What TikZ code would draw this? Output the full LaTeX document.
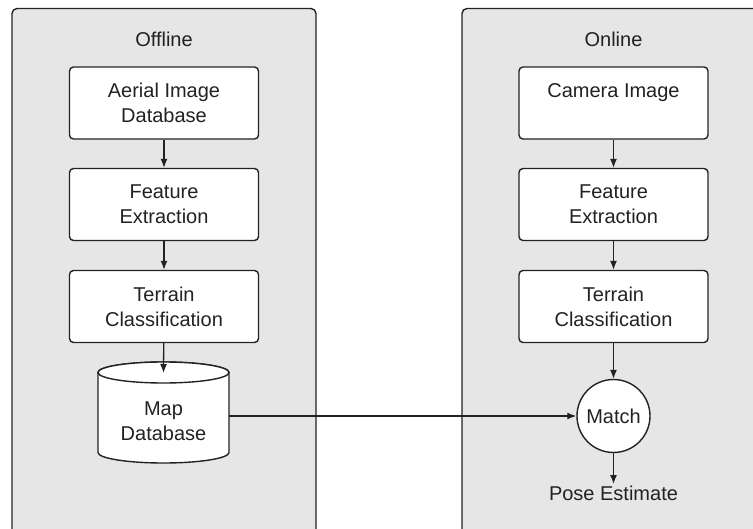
\documentclass[tikz,border=0pt]{standalone}
\usepackage{fontspec}
\setmainfont{Liberation Sans}
\usetikzlibrary{arrows.meta}
\definecolor{ink}{HTML}{222222}
\definecolor{panelgray}{HTML}{E6E6E6}
\begin{document}
\begin{tikzpicture}[x=1pt,y=-1pt,
  panel/.style={draw=ink, fill=panelgray, line width=1.4pt, rounded corners=5pt},
  procbox/.style={draw=ink, fill=white, line width=1.4pt, rounded corners=4pt,
    minimum width=189pt, minimum height=72pt, align=center, inner sep=0pt,
    font=\fontsize{20}{25}\selectfont, text=ink},
  lbl/.style={font=\fontsize{20}{25}\selectfont, text=ink, align=center},
  cyl/.style={draw=ink, fill=white, line width=1.4pt},
  flow/.style={-{Latex[length=9pt,width=7pt]}, line width=1.3pt, draw=ink}]
\useasboundingbox (0,0) rectangle (753,529);
\begin{scope}
  \clip (0,0) rectangle (753,529);
  \draw[panel] (12,8.5) rectangle (316,545);
  \draw[panel] (462,8.5) rectangle (800,545);
\end{scope}
% titles
\node[lbl] (offline) at (164,39) {Offline};
\node[lbl] (online) at (613.5,39) {Online};
% offline column
\node[procbox] (aerial) at (164,103) {Aerial Image\\Database};
\node[procbox] (featL) at (164,204.5) {Feature\\Extraction};
\node[procbox] (terrL) at (164,306.5) {Terrain\\Classification};
% map database cylinder
\path[cyl] (98,372.5) -- (98,452.5)
  arc[start angle=180, end angle=0, x radius=65.5, y radius=10.5]
  -- (229,372.5)
  arc[start angle=0, end angle=-180, x radius=65.5, y radius=10.5] -- cycle;
\draw[cyl] (163.5,372.5) ellipse[x radius=65.5, y radius=10.5];
\node[lbl] (map) at (163.5,421.5) {Map\\Database};
\coordinate (mapTop) at (163.5,373);
\coordinate (mapRight) at (229,416);
% online column
\node[procbox] (camera) at (613.5,103) {Camera Image\\\phantom{Database}};
\node[procbox] (featR) at (613.5,204.5) {Feature\\Extraction};
\node[procbox] (terrR) at (613.5,306.5) {Terrain\\Classification};
\node[circle, draw=ink, fill=white, line width=1.4pt, minimum size=73pt, inner sep=0pt,
  font=\fontsize{20}{25}\selectfont, text=ink] (match) at (613.5,416) {Match};
\node[lbl, anchor=north, inner sep=2pt] (pose) at (613.5,484) {Pose Estimate};
% connectors
\draw[flow] (aerial) -- (featL);
\draw[flow] (featL) -- (terrL);
\draw[flow] (terrL) -- (mapTop);
\draw[flow] (camera) -- (featR);
\draw[flow] (featR) -- (terrR);
\draw[flow] (terrR) -- (match);
\draw[flow] (mapRight) -- (match.west);
\draw[flow] (match) -- (pose);
\end{tikzpicture}
\end{document}
